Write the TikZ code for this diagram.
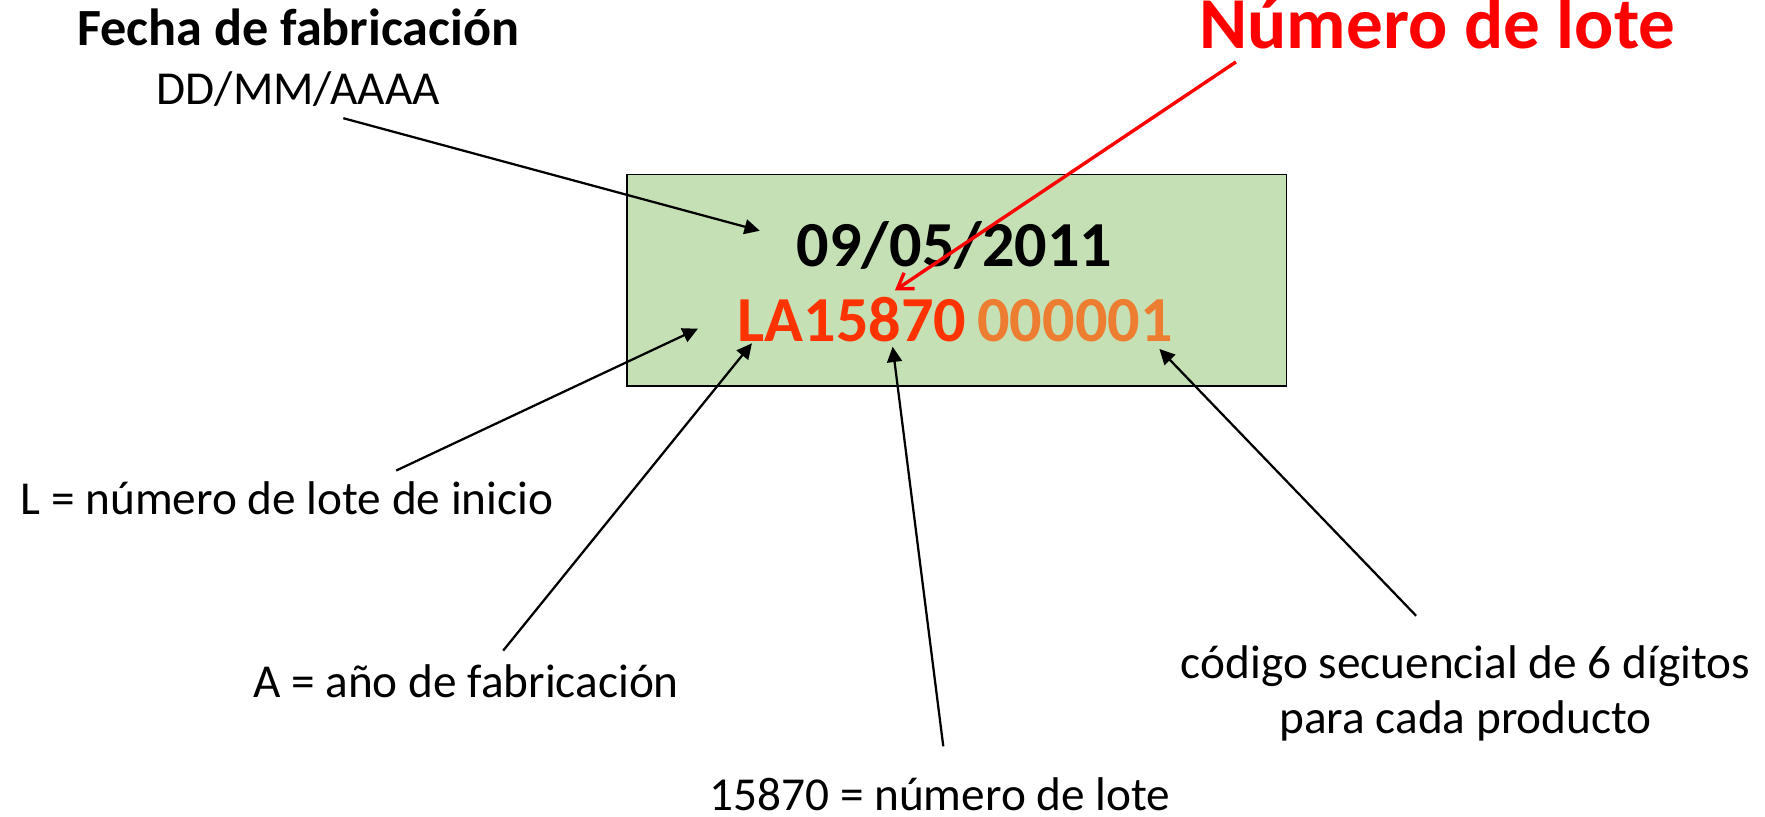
\documentclass[tikz,border=0pt]{standalone}
\usepackage{fontspec}
\setmainfont{Carlito}
\usepackage{tikz}
\usetikzlibrary{arrows.meta,calc}
\definecolor{Caja}{HTML}{C5E0B4}
\definecolor{Lote}{HTML}{FF3300}
\definecolor{Secuencia}{HTML}{ED7D31}
\definecolor{Rojo}{HTML}{FF0000}

\begin{document}
\begin{tikzpicture}[
  x=0.5pt, y=-0.5pt,
  >=Latex,
  every node/.style={inner sep=0pt, anchor=base},
  mylabel/.style={font=\fontsize{21}{24.5}\selectfont, align=center},
  mytitle/.style={font=\fontsize{23.2}{27}\selectfont\bfseries},
  mycode/.style={font=\fontsize{28.5}{33}\selectfont\bfseries},
  mybox/.style={
    draw=black,
    line width=0.75pt,
    fill=Caja,
    anchor=center,
    minimum width=293pt,
    minimum height=94pt
  },
  myarrow/.style={-{Triangle[length=6.8pt,width=6.6pt]}, line width=1pt},
  myredarrow/.style={-{Straight Barb[length=6.4pt,width=8.5pt]}, draw=Rojo, line width=1.5pt}
]
\useasboundingbox (0,0) rectangle (1568,725);

% Recuadro
\node[mybox] (caja) at (850,249) {};
\node[mycode] (fechacaja) at (848,237) {09/05/2011};
\node[mycode, text=Lote] (codigo) at (757,303) {LA15870};
\node[mycode, text=Secuencia] (secuencia) at (955,303) {000001};

% Textos
\node[mytitle] (fecha) at (265,40) {Fecha de fabricación};
\node[mylabel] (formato) at (265,93) {DD/MM/AAAA};
\node[mytitle, text=Rojo, font=\fontsize{32.5}{38}\selectfont\bfseries] (lotetit) at (1277,43) {Número de lote};
\node[mylabel] (inicio) at (255,457) {L = número de lote de inicio};
\node[mylabel] (anio) at (414,620) {A = año de fabricación};
\node[mylabel] (codsec) at (1302,652) {código secuencial de 6 dígitos\\para cada producto};
\node[mylabel] (numlote) at (835,720) {15870 = número de lote};

% Flechas
\draw[myarrow] ($(formato.base)+(40,12)$) -- ($(fechacaja.base)+(-173,-32)$);
\draw[myredarrow] ($(lotetit.base)+(-179,12)$) -- ($(codigo.base)+(38,-45)$);
\draw[myarrow] ($(inicio.base)+(97,-39)$) -- ($(codigo.base)+(-137,-11)$);
\draw[myarrow] ($(anio.base)+(33,-42)$) -- ($(codigo.base)+(-89,2)$);
\draw[myarrow] ($(numlote.base)+(3,-57)$) -- ($(codigo.base)+(36,5)$);
\draw[myarrow] ($(codsec.base)+(-44,-105)$) -- ($(secuencia.base)+(75,7)$);
\end{tikzpicture}
\end{document}
